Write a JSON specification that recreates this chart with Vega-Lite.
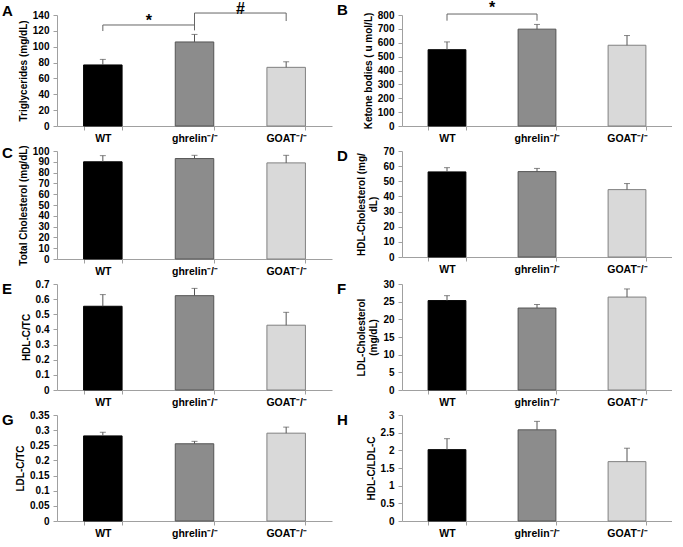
{
  "$schema": "https://vega.github.io/schema/vega-lite/v6.json",
  "padding": {"left": 2, "top": 0, "right": 0, "bottom": 0},
  "background": "white",
  "columns": 2,
  "bounds": "flush",
  "spacing": {"row": 25, "column": 70},
  "datasets": {
    "d": [
      {"p": "A", "g": "WT", "m": 77, "hi": 84},
      {"p": "A", "g": "ghrelin⁻/⁻", "m": 106, "hi": 115.5},
      {"p": "A", "g": "GOAT⁻/⁻", "m": 74, "hi": 81},
      {"p": "B", "g": "WT", "m": 550, "hi": 606},
      {"p": "B", "g": "ghrelin⁻/⁻", "m": 698, "hi": 732},
      {"p": "B", "g": "GOAT⁻/⁻", "m": 582, "hi": 652},
      {"p": "C", "g": "WT", "m": 90, "hi": 95.7},
      {"p": "C", "g": "ghrelin⁻/⁻", "m": 93, "hi": 96},
      {"p": "C", "g": "GOAT⁻/⁻", "m": 89, "hi": 96},
      {"p": "D", "g": "WT", "m": 56.2, "hi": 59},
      {"p": "D", "g": "ghrelin⁻/⁻", "m": 56.4, "hi": 58.5},
      {"p": "D", "g": "GOAT⁻/⁻", "m": 44.5, "hi": 48.5},
      {"p": "E", "g": "WT", "m": 0.553, "hi": 0.63},
      {"p": "E", "g": "ghrelin⁻/⁻", "m": 0.623, "hi": 0.671},
      {"p": "E", "g": "GOAT⁻/⁻", "m": 0.428, "hi": 0.513},
      {"p": "F", "g": "WT", "m": 25.3, "hi": 26.7},
      {"p": "F", "g": "ghrelin⁻/⁻", "m": 23.2, "hi": 24.2},
      {"p": "F", "g": "GOAT⁻/⁻", "m": 26.3, "hi": 28.6},
      {"p": "G", "g": "WT", "m": 0.281, "hi": 0.293},
      {"p": "G", "g": "ghrelin⁻/⁻", "m": 0.255, "hi": 0.263},
      {"p": "G", "g": "GOAT⁻/⁻", "m": 0.29, "hi": 0.31},
      {"p": "H", "g": "WT", "m": 2.02, "hi": 2.33},
      {"p": "H", "g": "ghrelin⁻/⁻", "m": 2.58, "hi": 2.82},
      {"p": "H", "g": "GOAT⁻/⁻", "m": 1.68, "hi": 2.06}
    ],
    "legs": [
      {"p": "A", "g": "WT", "y1": 119.8, "y2": 127.4},
      {"p": "A", "g": "ghrelin⁻/⁻", "y1": 120.6, "y2": 142.5},
      {"p": "A", "g": "GOAT⁻/⁻", "y1": 132.4, "y2": 142.5},
      {"p": "B", "g": "WT", "y1": 759, "y2": 807},
      {"p": "B", "g": "ghrelin⁻/⁻", "y1": 759, "y2": 807}
    ],
    "spans": [
      {"p": "A", "g": "WT", "g2": "ghrelin⁻/⁻", "y": 127.4},
      {"p": "A", "g": "ghrelin⁻/⁻", "g2": "GOAT⁻/⁻", "y": 142.5},
      {"p": "B", "g": "WT", "g2": "ghrelin⁻/⁻", "y": 807}
    ],
    "marks": [
      {"p": "A", "g": "WT", "y": 132, "t": "*"},
      {"p": "A", "g": "ghrelin⁻/⁻", "y": 147, "t": "#"},
      {"p": "B", "g": "WT", "y": 848, "t": "*"}
    ]
  },
  "concat": [
    {
      "title": {"text": "A", "dx": -55}, "width": 275, "height": 111,
      "data": {"name": "d"},
      "transform": [{"filter": "datum.p === 'A'"}],
      "encoding": {
        "x": {"field": "g", "type": "nominal", "sort": ["WT", "ghrelin⁻/⁻", "GOAT⁻/⁻"], "scale": {"paddingInner": 0.58, "paddingOuter": 0.29}, "axis": {"title": null, "labelAngle": 0}}
      },
      "layer": [
        {"mark": {"type": "bar", "strokeWidth": 1}, "encoding": {
          "y": {"field": "m", "type": "quantitative", "scale": {"domain": [0, 140], "nice": false}, "axis": {"title": "Triglycerides (mg/dL)", "values": [0, 20, 40, 60, 80, 100, 120, 140], "tickCount": 20, "format": "~f", "labelOverlap": false}},
          "fill": {"field": "g", "type": "nominal", "scale": {"domain": ["WT", "ghrelin⁻/⁻", "GOAT⁻/⁻"], "range": ["#000000", "#8c8c8c", "#d9d9d9"]}, "legend": null},
          "stroke": {"field": "g", "type": "nominal", "scale": {"domain": ["WT", "ghrelin⁻/⁻", "GOAT⁻/⁻"], "range": ["#000000", "#555555", "#808080"]}, "legend": null}}},
        {"mark": {"type": "rule", "strokeWidth": 1}, "encoding": {"y": {"field": "m", "type": "quantitative"}, "y2": {"field": "hi"}, "color": {"value": "#555555"}}},
        {"mark": {"type": "tick", "size": 6, "thickness": 1, "orient": "horizontal"}, "encoding": {"y": {"field": "hi", "type": "quantitative"}, "color": {"value": "#555555"}}},
        {"data": {"name": "legs"}, "transform": [{"filter": "datum.p === 'A'"}], "mark": {"type": "rule", "color": "#666666", "strokeWidth": 1}, "encoding": {"y": {"field": "y1", "type": "quantitative"}, "y2": {"field": "y2"}}},
        {"data": {"name": "spans"}, "transform": [{"filter": "datum.p === 'A'"}], "mark": {"type": "rule", "color": "#666666", "strokeWidth": 1}, "encoding": {"x2": {"field": "g2"}, "y": {"field": "y", "type": "quantitative"}}},
        {"data": {"name": "marks"}, "transform": [{"filter": "datum.p === 'A'"}], "mark": {"type": "text", "dx": 46, "fontSize": 16, "fontWeight": "bold", "font": "Liberation Sans", "baseline": "middle"}, "encoding": {"y": {"field": "y", "type": "quantitative"}, "text": {"field": "t"}}}
      ]
    },
    {
      "title": {"text": "B", "dx": -65}, "width": 270, "height": 111,
      "data": {"name": "d"},
      "transform": [{"filter": "datum.p === 'B'"}],
      "encoding": {
        "x": {"field": "g", "type": "nominal", "sort": ["WT", "ghrelin⁻/⁻", "GOAT⁻/⁻"], "scale": {"paddingInner": 0.58, "paddingOuter": 0.29}, "axis": {"title": null, "labelAngle": 0}}
      },
      "layer": [
        {"mark": {"type": "bar", "strokeWidth": 1}, "encoding": {
          "y": {"field": "m", "type": "quantitative", "scale": {"domain": [0, 800], "nice": false}, "axis": {"title": "Ketone bodies ( u mol/L)", "values": [0, 100, 200, 300, 400, 500, 600, 700, 800], "tickCount": 20, "format": "~f", "labelOverlap": false}},
          "fill": {"field": "g", "type": "nominal", "scale": {"domain": ["WT", "ghrelin⁻/⁻", "GOAT⁻/⁻"], "range": ["#000000", "#8c8c8c", "#d9d9d9"]}, "legend": null},
          "stroke": {"field": "g", "type": "nominal", "scale": {"domain": ["WT", "ghrelin⁻/⁻", "GOAT⁻/⁻"], "range": ["#000000", "#555555", "#808080"]}, "legend": null}}},
        {"mark": {"type": "rule", "strokeWidth": 1}, "encoding": {"y": {"field": "m", "type": "quantitative"}, "y2": {"field": "hi"}, "color": {"value": "#555555"}}},
        {"mark": {"type": "tick", "size": 6, "thickness": 1, "orient": "horizontal"}, "encoding": {"y": {"field": "hi", "type": "quantitative"}, "color": {"value": "#555555"}}},
        {"data": {"name": "legs"}, "transform": [{"filter": "datum.p === 'B'"}], "mark": {"type": "rule", "color": "#666666", "strokeWidth": 1}, "encoding": {"y": {"field": "y1", "type": "quantitative"}, "y2": {"field": "y2"}}},
        {"data": {"name": "spans"}, "transform": [{"filter": "datum.p === 'B'"}], "mark": {"type": "rule", "color": "#666666", "strokeWidth": 1}, "encoding": {"x2": {"field": "g2"}, "y": {"field": "y", "type": "quantitative"}}},
        {"data": {"name": "marks"}, "transform": [{"filter": "datum.p === 'B'"}], "mark": {"type": "text", "dx": 45, "fontSize": 16, "fontWeight": "bold", "font": "Liberation Sans", "baseline": "middle"}, "encoding": {"y": {"field": "y", "type": "quantitative"}, "text": {"field": "t"}}}
      ]
    },
    {
      "title": {"text": "C", "dx": -55}, "width": 275, "height": 108,
      "data": {"name": "d"},
      "transform": [{"filter": "datum.p === 'C'"}],
      "encoding": {
        "x": {"field": "g", "type": "nominal", "sort": ["WT", "ghrelin⁻/⁻", "GOAT⁻/⁻"], "scale": {"paddingInner": 0.58, "paddingOuter": 0.29}, "axis": {"title": null, "labelAngle": 0}}
      },
      "layer": [
        {"mark": {"type": "bar", "strokeWidth": 1}, "encoding": {
          "y": {"field": "m", "type": "quantitative", "scale": {"domain": [0, 100], "nice": false}, "axis": {"title": "Total Cholesterol  (mg/dL)", "values": [0, 10, 20, 30, 40, 50, 60, 70, 80, 90, 100], "tickCount": 20, "format": "~f", "labelOverlap": false}},
          "fill": {"field": "g", "type": "nominal", "scale": {"domain": ["WT", "ghrelin⁻/⁻", "GOAT⁻/⁻"], "range": ["#000000", "#8c8c8c", "#d9d9d9"]}, "legend": null},
          "stroke": {"field": "g", "type": "nominal", "scale": {"domain": ["WT", "ghrelin⁻/⁻", "GOAT⁻/⁻"], "range": ["#000000", "#555555", "#808080"]}, "legend": null}}},
        {"mark": {"type": "rule", "strokeWidth": 1}, "encoding": {"y": {"field": "m", "type": "quantitative"}, "y2": {"field": "hi"}, "color": {"value": "#555555"}}},
        {"mark": {"type": "tick", "size": 6, "thickness": 1, "orient": "horizontal"}, "encoding": {"y": {"field": "hi", "type": "quantitative"}, "color": {"value": "#555555"}}}
      ]
    },
    {
      "title": {"text": "D", "dx": -65}, "width": 270, "height": 106,
      "data": {"name": "d"},
      "transform": [{"filter": "datum.p === 'D'"}],
      "encoding": {
        "x": {"field": "g", "type": "nominal", "sort": ["WT", "ghrelin⁻/⁻", "GOAT⁻/⁻"], "scale": {"paddingInner": 0.58, "paddingOuter": 0.29}, "axis": {"title": null, "labelAngle": 0}}
      },
      "layer": [
        {"mark": {"type": "bar", "strokeWidth": 1}, "encoding": {
          "y": {"field": "m", "type": "quantitative", "scale": {"domain": [0, 70], "nice": false}, "axis": {"title": ["HDL-Cholesterol  (mg/", "dL)"], "values": [0, 10, 20, 30, 40, 50, 60, 70], "tickCount": 20, "format": "~f", "labelOverlap": false}},
          "fill": {"field": "g", "type": "nominal", "scale": {"domain": ["WT", "ghrelin⁻/⁻", "GOAT⁻/⁻"], "range": ["#000000", "#8c8c8c", "#d9d9d9"]}, "legend": null},
          "stroke": {"field": "g", "type": "nominal", "scale": {"domain": ["WT", "ghrelin⁻/⁻", "GOAT⁻/⁻"], "range": ["#000000", "#555555", "#808080"]}, "legend": null}}},
        {"mark": {"type": "rule", "strokeWidth": 1}, "encoding": {"y": {"field": "m", "type": "quantitative"}, "y2": {"field": "hi"}, "color": {"value": "#555555"}}},
        {"mark": {"type": "tick", "size": 6, "thickness": 1, "orient": "horizontal"}, "encoding": {"y": {"field": "hi", "type": "quantitative"}, "color": {"value": "#555555"}}}
      ]
    },
    {
      "title": {"text": "E", "dx": -55}, "width": 275, "height": 106,
      "data": {"name": "d"},
      "transform": [{"filter": "datum.p === 'E'"}],
      "encoding": {
        "x": {"field": "g", "type": "nominal", "sort": ["WT", "ghrelin⁻/⁻", "GOAT⁻/⁻"], "scale": {"paddingInner": 0.58, "paddingOuter": 0.29}, "axis": {"title": null, "labelAngle": 0}}
      },
      "layer": [
        {"mark": {"type": "bar", "strokeWidth": 1}, "encoding": {
          "y": {"field": "m", "type": "quantitative", "scale": {"domain": [0, 0.7], "nice": false}, "axis": {"title": "HDL-C/TC", "values": [0, 0.1, 0.2, 0.3, 0.4, 0.5, 0.6, 0.7], "tickCount": 20, "format": "~f", "labelOverlap": false}},
          "fill": {"field": "g", "type": "nominal", "scale": {"domain": ["WT", "ghrelin⁻/⁻", "GOAT⁻/⁻"], "range": ["#000000", "#8c8c8c", "#d9d9d9"]}, "legend": null},
          "stroke": {"field": "g", "type": "nominal", "scale": {"domain": ["WT", "ghrelin⁻/⁻", "GOAT⁻/⁻"], "range": ["#000000", "#555555", "#808080"]}, "legend": null}}},
        {"mark": {"type": "rule", "strokeWidth": 1}, "encoding": {"y": {"field": "m", "type": "quantitative"}, "y2": {"field": "hi"}, "color": {"value": "#555555"}}},
        {"mark": {"type": "tick", "size": 6, "thickness": 1, "orient": "horizontal"}, "encoding": {"y": {"field": "hi", "type": "quantitative"}, "color": {"value": "#555555"}}}
      ]
    },
    {
      "title": {"text": "F", "dx": -65}, "width": 270, "height": 106,
      "data": {"name": "d"},
      "transform": [{"filter": "datum.p === 'F'"}],
      "encoding": {
        "x": {"field": "g", "type": "nominal", "sort": ["WT", "ghrelin⁻/⁻", "GOAT⁻/⁻"], "scale": {"paddingInner": 0.58, "paddingOuter": 0.29}, "axis": {"title": null, "labelAngle": 0}}
      },
      "layer": [
        {"mark": {"type": "bar", "strokeWidth": 1}, "encoding": {
          "y": {"field": "m", "type": "quantitative", "scale": {"domain": [0, 30], "nice": false}, "axis": {"title": ["LDL-Cholesterol", "(mg/dL)"], "values": [0, 5, 10, 15, 20, 25, 30], "tickCount": 20, "format": "~f", "labelOverlap": false}},
          "fill": {"field": "g", "type": "nominal", "scale": {"domain": ["WT", "ghrelin⁻/⁻", "GOAT⁻/⁻"], "range": ["#000000", "#8c8c8c", "#d9d9d9"]}, "legend": null},
          "stroke": {"field": "g", "type": "nominal", "scale": {"domain": ["WT", "ghrelin⁻/⁻", "GOAT⁻/⁻"], "range": ["#000000", "#555555", "#808080"]}, "legend": null}}},
        {"mark": {"type": "rule", "strokeWidth": 1}, "encoding": {"y": {"field": "m", "type": "quantitative"}, "y2": {"field": "hi"}, "color": {"value": "#555555"}}},
        {"mark": {"type": "tick", "size": 6, "thickness": 1, "orient": "horizontal"}, "encoding": {"y": {"field": "hi", "type": "quantitative"}, "color": {"value": "#555555"}}}
      ]
    },
    {
      "title": {"text": "G", "dx": -55}, "width": 275, "height": 106,
      "data": {"name": "d"},
      "transform": [{"filter": "datum.p === 'G'"}],
      "encoding": {
        "x": {"field": "g", "type": "nominal", "sort": ["WT", "ghrelin⁻/⁻", "GOAT⁻/⁻"], "scale": {"paddingInner": 0.58, "paddingOuter": 0.29}, "axis": {"title": null, "labelAngle": 0}}
      },
      "layer": [
        {"mark": {"type": "bar", "strokeWidth": 1}, "encoding": {
          "y": {"field": "m", "type": "quantitative", "scale": {"domain": [0, 0.35], "nice": false}, "axis": {"title": "LDL-C/TC", "values": [0, 0.05, 0.1, 0.15, 0.2, 0.25, 0.3, 0.35], "tickCount": 20, "format": "~f", "labelOverlap": false}},
          "fill": {"field": "g", "type": "nominal", "scale": {"domain": ["WT", "ghrelin⁻/⁻", "GOAT⁻/⁻"], "range": ["#000000", "#8c8c8c", "#d9d9d9"]}, "legend": null},
          "stroke": {"field": "g", "type": "nominal", "scale": {"domain": ["WT", "ghrelin⁻/⁻", "GOAT⁻/⁻"], "range": ["#000000", "#555555", "#808080"]}, "legend": null}}},
        {"mark": {"type": "rule", "strokeWidth": 1}, "encoding": {"y": {"field": "m", "type": "quantitative"}, "y2": {"field": "hi"}, "color": {"value": "#555555"}}},
        {"mark": {"type": "tick", "size": 6, "thickness": 1, "orient": "horizontal"}, "encoding": {"y": {"field": "hi", "type": "quantitative"}, "color": {"value": "#555555"}}}
      ]
    },
    {
      "title": {"text": "H", "dx": -65}, "width": 270, "height": 106,
      "data": {"name": "d"},
      "transform": [{"filter": "datum.p === 'H'"}],
      "encoding": {
        "x": {"field": "g", "type": "nominal", "sort": ["WT", "ghrelin⁻/⁻", "GOAT⁻/⁻"], "scale": {"paddingInner": 0.58, "paddingOuter": 0.29}, "axis": {"title": null, "labelAngle": 0}}
      },
      "layer": [
        {"mark": {"type": "bar", "strokeWidth": 1}, "encoding": {
          "y": {"field": "m", "type": "quantitative", "scale": {"domain": [0, 3], "nice": false}, "axis": {"title": "HDL-C/LDL-C", "values": [0, 0.5, 1, 1.5, 2, 2.5, 3], "tickCount": 20, "format": "~f", "labelOverlap": false}},
          "fill": {"field": "g", "type": "nominal", "scale": {"domain": ["WT", "ghrelin⁻/⁻", "GOAT⁻/⁻"], "range": ["#000000", "#8c8c8c", "#d9d9d9"]}, "legend": null},
          "stroke": {"field": "g", "type": "nominal", "scale": {"domain": ["WT", "ghrelin⁻/⁻", "GOAT⁻/⁻"], "range": ["#000000", "#555555", "#808080"]}, "legend": null}}},
        {"mark": {"type": "rule", "strokeWidth": 1}, "encoding": {"y": {"field": "m", "type": "quantitative"}, "y2": {"field": "hi"}, "color": {"value": "#555555"}}},
        {"mark": {"type": "tick", "size": 6, "thickness": 1, "orient": "horizontal"}, "encoding": {"y": {"field": "hi", "type": "quantitative"}, "color": {"value": "#555555"}}}
      ]
    }
  ],
  "resolve": {"scale": {"fill": "independent", "stroke": "independent"}},
  "config": {
    "view": {"stroke": null},
    "font": "Liberation Sans",
    "title": {"anchor": "start", "frame": "group", "fontSize": 15, "fontWeight": "bold", "font": "Liberation Sans", "color": "#000000", "dy": 22, "offset": 0},
    "axis": {"grid": false, "domainColor": "#a0a0a0", "tickColor": "#a0a0a0", "tickSize": 4, "labelFont": "Liberation Sans", "labelFontWeight": "bold", "labelFontSize": 10, "labelColor": "#000000", "titleFont": "Liberation Sans", "titleFontWeight": "bold", "titleFontSize": 10, "titleColor": "#000000", "labelPadding": 4, "titlePadding": 4, "labelOverlap": false},
    "axisX": {"tickBand": "extent", "labelPadding": 3, "labelFontSize": 10.5}
  }
}
